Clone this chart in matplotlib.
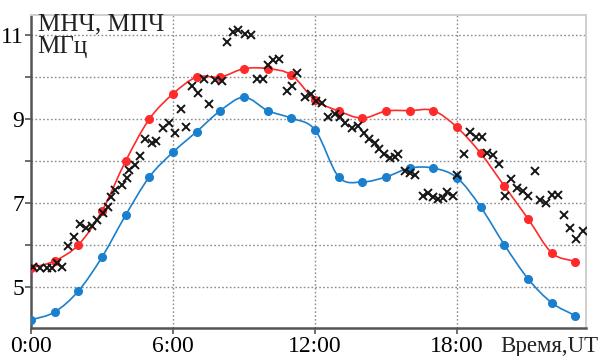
import numpy as np
import matplotlib.pyplot as plt
from matplotlib.path import Path
from matplotlib.patches import PathPatch

plt.rcParams.update({
    "font.family": ["Liberation Serif", "DejaVu Serif"],
    "font.size": 16,
})

# ── Data ──────────────────────────────────────────────────────────────────────
hours = list(range(24))

# upper curve (red)
red_vals = [5.45, 5.62, 6.00, 6.81, 8.00, 9.00, 9.60, 10.00, 10.00, 10.20,
            10.20, 10.05, 9.45, 9.19, 9.02, 9.19, 9.20, 9.20, 8.80, 8.18,
            7.40, 6.62, 5.81, 5.60]

# lower curve (blue)
blue_vals = [4.21, 4.40, 4.90, 5.71, 6.71, 7.62, 8.21, 8.70, 9.20, 9.52,
             9.20, 9.02, 8.74, 7.62, 7.50, 7.62, 7.83, 7.83, 7.60, 6.90,
             6.00, 5.19, 4.62, 4.31]

# measured values (crosses)
obs_t = [0.10, 0.38, 0.66, 0.87, 1.09, 1.32, 1.58, 1.83, 2.07, 2.32,
         2.56, 2.78, 3.03, 3.27, 3.37, 3.55, 3.83, 4.04, 4.14, 4.39,
         4.60, 4.82, 5.10, 5.28, 5.59, 5.84, 6.08, 6.32, 6.55, 6.79,
         7.07, 7.31, 7.53, 7.77, 8.06, 8.29, 8.55, 8.76, 9.04, 9.29,
         9.54, 9.81, 10.00, 10.24, 10.49, 10.80, 11.01, 11.22, 11.58, 11.82,
         12.04, 12.28, 12.56, 12.84, 13.05, 13.27, 13.55, 13.83, 14.07, 14.29,
         14.53, 14.72, 14.93, 15.17, 15.38, 15.52, 15.80, 15.99, 16.22, 16.55,
         16.79, 17.00, 17.21, 17.42, 17.56, 17.82, 18.01, 18.29, 18.55, 18.80,
         19.04, 19.28, 19.51, 19.79, 20.03, 20.27, 20.52, 20.77, 21.01, 21.29,
         21.50, 21.76, 22.00, 22.28, 22.52, 22.77, 23.03, 23.31]
obs_v = [5.47, 5.45, 5.45, 5.44, 5.58, 5.47, 5.98, 6.18, 6.50, 6.40,
         6.44, 6.60, 6.75, 6.91, 7.15, 7.31, 7.43, 7.59, 7.79, 7.90,
         8.12, 8.52, 8.42, 8.48, 8.78, 8.90, 8.66, 9.23, 8.82, 9.79,
         9.63, 9.95, 9.36, 9.93, 9.90, 10.84, 11.08, 11.12, 11.02, 11.00,
         9.95, 9.95, 10.29, 10.40, 10.43, 9.67, 9.79, 10.09, 9.52, 9.60,
         9.44, 9.37, 9.05, 9.12, 9.04, 8.91, 8.78, 8.83, 8.67, 8.52,
         8.44, 8.28, 8.17, 8.06, 8.10, 8.17, 7.76, 7.71, 7.67, 7.17,
         7.23, 7.15, 7.09, 7.11, 7.27, 7.17, 7.67, 8.17, 8.70, 8.56,
         8.58, 8.20, 8.14, 7.93, 7.17, 7.56, 7.35, 7.29, 7.17, 7.75,
         7.07, 6.99, 7.19, 7.19, 6.71, 6.40, 6.14, 6.34]

x_ticks = [0, 6, 12, 18]
x_labels = ["0:00", "6:00", "12:00", "18:00"]
y_ticks = [5, 7, 9, 11]

RED = "#ff2a2a"
BLUE = "#1a7fcc"


def smooth_path(x, y):
    """Catmull-Rom curve through the points, as a cubic Bezier path."""
    x = np.asarray(x, float)
    y = np.asarray(y, float)
    px = np.concatenate([[2 * x[0] - x[1]], x, [2 * x[-1] - x[-2]]])
    py = np.concatenate([[2 * y[0] - y[1]], y, [2 * y[-1] - y[-2]]])
    verts = [(x[0], y[0])]
    codes = [Path.MOVETO]
    for i in range(1, len(px) - 2):
        c1 = (px[i] + (px[i + 1] - px[i - 1]) / 6, py[i] + (py[i + 1] - py[i - 1]) / 6)
        c2 = (px[i + 1] - (px[i + 2] - px[i]) / 6, py[i + 1] - (py[i + 2] - py[i]) / 6)
        verts += [c1, c2, (px[i + 1], py[i + 1])]
        codes += [Path.CURVE4] * 3
    return Path(verts, codes)


fig = plt.figure(figsize=(6.03, 3.56), dpi=100)
ax = fig.add_axes([0.0514, 0.0787, 0.9206, 0.8793])

ax.set_xlim(0, 23.45)
ax.set_ylim(4.02, 11.48)

# grid
ax.set_xticks(x_ticks)
ax.set_xticklabels(x_labels)
ax.set_yticks(y_ticks)
ax.set_yticks(range(5, 12), minor=True)
ax.grid(True, which="both", axis="y", color="#8c8c8c", linestyle=(0, (1.2, 1.6)), linewidth=1.0)
ax.grid(True, which="major", axis="x", color="#8c8c8c", linestyle=(0, (1.2, 1.6)), linewidth=1.0)
ax.set_axisbelow(True)

# curves
for vals, col in ((red_vals, RED), (blue_vals, BLUE)):
    ax.add_patch(PathPatch(smooth_path(hours, vals), facecolor="none",
                           edgecolor=col, linewidth=1.2, zorder=3))
    ax.plot(hours, vals, linestyle="none", marker="o", markersize=5.5,
            color=col, zorder=4)

ax.plot(obs_t, obs_v, linestyle="none", marker="x", markersize=6,
        markeredgewidth=1.4, color="#151515", zorder=5)

# frame
for side in ("left", "bottom"):
    ax.spines[side].set_color("#555555")
    ax.spines[side].set_linewidth(1.8)
for side in ("top", "right"):
    ax.spines[side].set_color("#cfcfcf")
    ax.spines[side].set_linewidth(1.4)

ax.tick_params(axis="both", which="both", direction="out", length=4,
               width=1.2, color="#555555", labelsize=17, pad=2)
ax.tick_params(axis="y", which="major", pad=1)

ax.text(0.012, 1.005, "МНЧ, МПЧ\nМГц", transform=ax.transAxes,
        ha="left", va="top", fontsize=18, linespacing=1.05, color="#222222")
ax.text(1.022, -0.025, "Время,UT", transform=ax.transAxes,
        ha="right", va="top", fontsize=16.5, color="#222222")

fig.savefig("out.png", dpi=100)
